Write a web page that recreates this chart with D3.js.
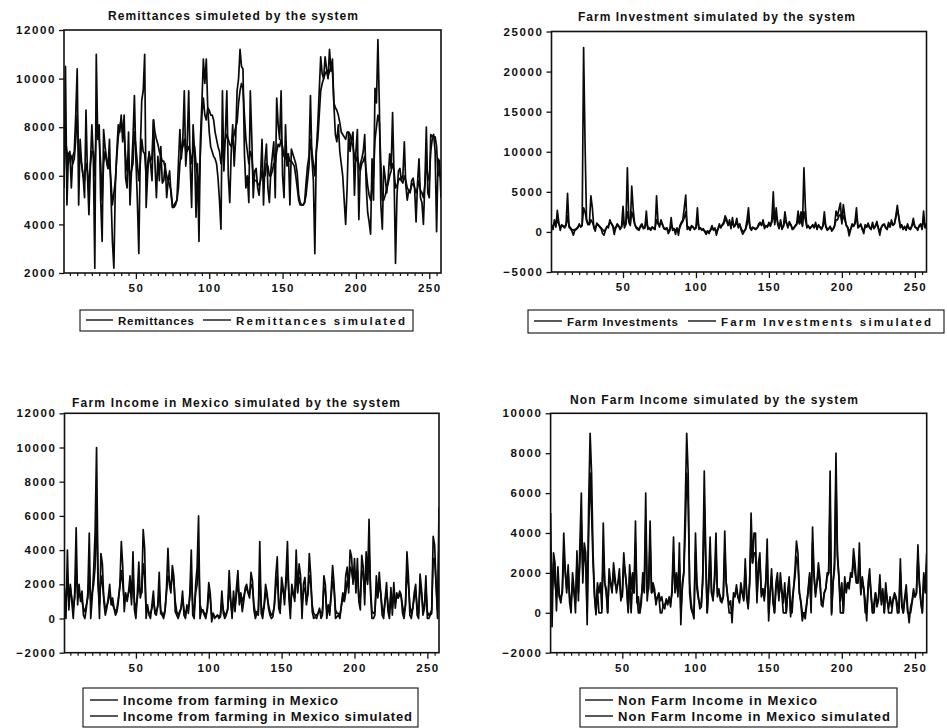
<!DOCTYPE html>
<html><head><meta charset="utf-8">
<script src="https://cdn.jsdelivr.net/npm/d3@7"></script>
<style>body{margin:0;background:#fff}svg{display:block}</style>
</head><body><svg id="c" width="947" height="728"></svg>
<script>
// ---------- DATA (observations 1..258) ----------
const remittances = [
5500,10500,4800,6900,7000,5500,6800,7000,8500,10400,
4800,7500,6500,6000,5100,8700,6000,4400,6500,8100,
6700,2200,11000,7500,8100,5000,3300,7900,7200,6700,
6300,7500,5300,3300,2200,5600,7000,8100,7800,8500,
7400,8500,5900,5500,7800,4800,6200,7500,9300,6700,
5000,2800,7000,9100,9500,11000,4700,6000,7000,6500,
5800,8300,6500,5100,6800,5800,7200,5700,5800,6500,
5100,5800,6200,5200,4700,4800,4900,5000,6500,7900,
6700,7500,9500,6400,7300,9500,6500,4700,8100,7000,
4300,6500,3300,7500,9000,10800,9800,10800,8800,7800,
7200,7000,6800,6700,6500,5900,5000,3800,9500,6200,
7700,9500,6000,4900,7000,8100,6400,7500,9500,10000,
11200,10500,10400,6900,5500,6000,4900,9500,7600,5100,
6200,6300,5500,5200,6000,7500,4800,6600,7300,5500,
4900,6200,6800,7400,5100,9200,8100,7500,9500,6000,
5100,8100,6400,6900,4800,7100,6900,6700,6500,6100,
5200,4900,4800,4800,4900,5700,6400,6800,9300,6700,
5800,2800,7000,8100,9500,10900,10200,10000,10900,10400,
10000,11200,10300,10800,8900,7700,7400,8100,7000,6500,
6000,5000,4000,5500,7800,7000,7500,7800,5200,7000,
7900,4200,6500,6700,7000,7700,5600,4500,4100,3600,
6700,5000,9600,9000,11600,8800,4800,3800,6400,5900,
5300,5900,6900,6300,8600,6000,2400,5200,6200,6300,
5800,6000,7400,5600,5000,5400,5300,5800,5900,5500,
4100,5700,6700,5100,4900,4000,5700,8000,5300,5100,
7700,7600,7700,7000,3700,6700,6600,5100];
const remittancesSim = [
6000,7500,7000,6500,6900,6800,6500,6700,7500,8500,
7000,6800,6500,6000,5800,6500,6200,5500,6500,7000,
7000,6000,8000,7800,7500,6500,5000,6500,7000,6600,
6300,6500,5800,4800,5300,5800,6800,7600,8000,8300,
7800,7700,6800,6200,6500,6000,6200,6500,7800,7200,
6500,5800,6500,7500,7000,6900,6000,6500,6900,6600,
6800,8300,7800,7500,7300,7000,6800,6600,6600,6300,
6000,5800,5600,5400,4700,4700,4800,5000,5500,6500,
7000,7200,7500,7000,7000,7200,7000,6500,7000,7200,
6500,6000,5500,7000,8500,9200,8500,8300,8800,8700,
8500,8500,8300,7800,7500,7200,7000,6500,7000,7200,
7500,7700,7500,7300,7200,7500,7700,8000,8200,9000,
9500,9800,9600,8500,7500,7000,6500,7000,6800,6000,
5800,5800,5700,5600,5800,6200,6000,6000,6500,6400,
6000,6000,6200,6500,6500,7000,7300,7200,7500,7200,
6800,6700,6900,6800,6600,6600,6500,6400,6000,5500,
5000,4800,4800,4800,4900,5200,5800,6400,7500,7000,
6500,6000,7000,7500,8500,9500,9800,10000,10200,10300,
10100,10300,10500,10300,9000,8800,8700,8500,8200,7800,
7700,7600,7500,7800,7800,7700,7400,7200,6800,6600,
6800,6400,6200,6500,6600,6800,6200,5600,5200,5000,
5500,6000,7500,8000,8500,8200,6500,5000,5000,5200,
5500,5700,6000,6200,6500,6200,5500,5600,5800,5900,
5800,5700,6000,5800,5500,5400,5400,5600,5700,5500,
5300,5500,5800,5400,5300,5100,5600,6500,6000,5800,
7000,7500,7600,7600,7200,6000,6200,5800];

const farmInv = [
800,300,1500,600,2700,1200,200,900,700,500,
1000,4800,600,400,100,-400,200,300,500,1000,
600,800,23000,11000,1500,900,1200,4500,3000,500,
100,1100,900,600,400,-200,-400,200,700,500,
1500,1000,700,-300,500,1000,800,300,600,3200,
500,1000,8000,1200,800,5700,2800,1000,500,300,
200,800,1000,400,500,2600,300,500,200,600,
400,300,4500,1200,600,1500,1000,400,300,500,
-200,100,1800,200,400,-300,500,-400,800,1200,
1500,3000,4600,300,500,200,800,600,300,500,
3000,300,500,200,400,0,-300,100,-200,300,
800,200,500,-400,300,1000,500,900,1200,2000,
1600,800,1500,400,1800,600,900,1700,500,1000,
200,-300,0,400,1500,3000,500,200,600,400,
300,500,1000,1200,800,1500,400,800,600,1200,
700,1500,5000,900,3000,1000,400,1500,300,800,
2500,1200,500,1300,900,300,400,800,1000,2600,
1100,2500,700,8000,3000,500,800,400,600,900,
500,1200,300,900,600,300,800,2500,600,200,
400,700,100,300,800,2600,2000,2800,3600,1000,
3400,2000,800,500,-500,300,1000,700,1200,3000,
500,700,1000,300,-200,900,600,1100,500,300,
1200,400,800,1300,400,-400,600,900,1000,500,
300,1200,600,1500,800,1000,2000,3300,1800,500,
900,300,700,200,1000,400,300,800,1700,600,
500,200,800,1000,300,2600,500,1000];
const farmInvSim = [
500,800,1000,800,1500,1000,600,700,800,600,
800,2000,800,500,300,200,300,400,600,800,
700,800,3000,2500,1500,1000,900,1500,1200,700,
500,800,900,700,500,300,100,300,600,800,
1200,1100,800,400,500,800,700,500,600,1500,
800,1000,2500,1500,1000,2500,1800,1000,600,500,
400,600,800,500,600,1200,600,500,400,600,
500,500,1500,1000,800,1200,900,500,400,500,
200,200,800,400,400,200,400,100,600,1000,
1300,1800,2500,700,600,400,700,600,400,500,
1500,600,500,300,300,100,0,100,0,200,
500,300,400,100,300,700,600,800,1000,1500,
1400,900,1200,600,1300,700,800,1200,700,900,
400,100,100,300,900,1800,700,400,500,500,
400,500,800,1000,900,1200,600,700,700,1000,
800,1200,2500,1200,2000,1200,600,1200,500,700,
1500,1100,700,1000,900,500,500,700,900,1500,
1000,1500,800,2500,1500,700,700,500,600,800,
600,900,500,800,600,400,700,1500,700,400,
400,600,300,400,700,1500,1500,2000,2200,1300,
2000,1500,900,600,100,300,800,700,1000,2000,
800,700,800,400,100,700,600,900,600,400,
900,500,700,1000,500,100,500,800,900,600,
400,900,700,1200,900,1000,1800,2800,1900,800,
800,400,600,300,800,500,400,700,1200,700,
500,400,700,900,500,1500,700,800];

const farmIncome = [
1500,0,4000,500,2000,1000,0,1500,5300,800,
2000,1000,1600,200,0,600,1500,5000,0,1200,
2800,5000,10000,2500,0,3800,3200,1000,200,600,
1200,2000,800,1200,600,200,400,1000,2000,4500,
3000,400,1500,1000,1600,2500,800,3900,500,0,
1500,3300,1200,1600,5200,4100,0,800,200,0,
800,1600,300,200,800,2700,300,200,0,400,
1800,4100,2000,1500,3100,2500,400,200,0,300,
600,1600,200,0,800,300,1500,4000,200,0,
2000,3000,6000,0,500,400,200,0,600,2100,
1500,-200,300,0,100,200,0,100,1600,300,
0,200,600,2800,1200,0,1600,400,1800,2800,
800,1500,400,1000,1800,2000,1500,1200,2700,2200,
500,0,300,200,4500,300,0,800,2000,1500,
600,200,0,100,800,2500,3600,600,300,2400,
1800,800,2500,4500,1200,0,2000,1500,1000,4000,
1500,3200,2500,0,2000,2400,800,1500,3800,2500,
400,0,100,0,300,600,0,200,2500,2000,
0,800,200,1600,3100,2000,0,100,200,0,
800,1500,1000,2500,3000,1500,4000,3600,2000,3500,
1500,3500,1000,500,3700,3000,800,3900,2200,5800,
1500,0,0,200,2500,1200,2700,1500,200,0,
1100,2100,400,0,1800,200,2100,600,1500,1200,
1600,1400,300,0,800,3900,2500,200,0,600,
1500,2000,200,0,2600,1700,200,600,2500,0,
0,200,300,4800,4300,2000,0,6500];
const farmIncomeSim = [
1800,800,2000,1200,1800,1200,600,1200,3000,1500,
1500,1200,1000,600,400,800,1200,2500,1000,1500,
2000,3000,6500,2000,800,2500,2000,1200,600,700,
1000,1500,1000,800,600,400,600,1200,1800,2800,
2000,1000,1300,1200,1500,1800,1200,2500,1000,500,
1200,2000,1500,1500,3200,2500,600,600,300,300,
600,1000,500,400,700,1500,500,300,200,500,
1500,2500,2200,1800,2500,2200,1000,400,200,400,
600,1200,500,200,600,500,1200,2500,800,400,
1500,2000,3500,800,500,500,300,200,500,1500,
1200,200,300,100,100,200,100,200,1000,500,
200,300,500,1800,1000,300,1200,700,1400,2000,
1200,1400,1000,1300,1600,1800,1500,1400,2000,1800,
800,300,400,400,2500,800,300,700,1500,1300,
800,400,200,300,700,1800,2500,1000,700,1800,
1600,1200,2000,3000,1500,600,1600,1400,1200,2800,
1600,2400,2000,800,1600,1800,1000,1400,2500,2000,
800,300,200,200,300,500,300,400,1800,1600,
500,700,400,1300,2200,1700,500,300,300,200,
700,1300,1000,1500,2200,1800,3000,2800,2200,2800,
2000,2800,1200,1200,2800,2600,1500,3000,2000,4000,
1800,400,300,400,1800,1300,2000,1500,600,300,
1000,1600,800,300,1400,600,1600,900,1300,1200,
1400,1300,700,300,800,2800,2000,800,300,600,
1200,1600,700,300,1800,1500,600,700,1800,400,
200,300,500,3500,3500,2000,500,4500];

const nonFarmIncome = [
5000,-700,3000,2500,100,2300,800,500,1200,4000,
2200,1000,2400,500,0,2000,1200,0,3100,600,
3400,6000,1500,3500,3000,-600,5400,9000,7000,3000,
1000,-100,1500,1000,1500,200,4500,1500,1200,0,
2200,1500,1000,2500,1800,1000,1500,2200,600,1000,
3000,2000,1300,100,2400,1200,2000,1000,4600,500,
800,0,500,2000,1200,6000,600,1500,4600,1000,
1500,1200,400,800,1000,600,800,300,200,700,
400,800,300,1200,3800,1000,2000,800,3500,-600,
1500,2000,5400,9000,7000,1000,200,0,-300,4000,
1500,800,200,300,2000,7100,3000,0,1500,3800,
1000,600,1800,4000,800,1200,600,500,800,4100,
1500,800,400,600,-500,1000,800,1400,800,500,
1500,1000,600,2700,800,200,1500,5000,2500,4000,
4000,500,2500,3000,800,1200,600,1500,3700,-400,
1000,2200,500,0,1500,2000,600,2000,1200,500,
1500,0,1000,1800,-200,600,1200,2200,3600,3000,
1000,500,-400,0,-300,400,1200,2000,0,4300,
2000,800,1500,2500,1800,400,300,1000,1200,2000,
2000,7100,-100,1500,2500,8000,3000,1800,600,1500,
0,1800,1000,1500,1200,2000,1800,3200,2500,1500,
1500,3500,900,1800,1200,600,-400,1500,2200,800,
0,500,1000,300,600,1900,400,1200,0,1500,
600,200,800,300,700,1000,800,400,200,2700,
300,0,800,1400,200,-500,300,600,1200,800,
1000,3400,1500,500,0,2000,1200,3000];
const nonFarmIncomeSim = [
3000,1000,2500,1500,800,1500,800,800,1000,3000,
2000,1200,2000,800,500,1500,1000,500,2500,1000,
2500,4500,2000,3000,2500,0,4000,7000,5000,2500,
800,0,1200,0,0,0,3000,1500,1000,0,
1800,1500,1200,2000,1500,1200,1500,1800,800,800,
2500,2000,1200,0,1800,0,1500,1000,3500,800,
0,0,800,1500,1000,4500,1000,1200,3500,1000,
1200,1000,600,800,800,0,0,400,400,600,
500,700,500,1000,3000,1200,1600,1000,2500,0,
1200,2000,4000,7000,5500,1500,500,0,0,3000,
1200,700,400,500,1500,5500,2500,0,1200,3000,
1000,800,1500,3000,1000,1000,800,600,800,3000,
1500,800,0,0,0,800,900,1200,800,600,
1200,1000,700,2200,900,400,1500,3800,2500,3000,
3000,800,2000,2500,1000,1200,800,1500,2800,0,
1000,1800,700,0,1200,1600,800,1500,1000,0,
0,0,1000,1500,0,0,1200,1800,2800,2500,
1000,600,0,0,0,500,1000,1800,500,3500,
1800,1000,1500,2000,1500,600,500,1000,1200,1800,
2000,5500,0,1500,2200,6500,2800,1800,0,0,
0,1500,1200,1500,1500,1800,1800,2800,2000,1500,
1500,2800,1000,1600,1200,0,0,1200,1800,1000,
0,0,1000,500,700,1500,600,1000,0,1200,
700,0,0,0,600,800,700,0,0,2000,
500,0,700,1000,0,0,0,500,1000,800,
1000,2800,1500,600,0,1800,1000,2500];

const xTicks = [50, 100, 150, 200, 250];
const yTicksRemit = [2000, 4000, 6000, 8000, 10000, 12000];
const yTicksInv = [-5000, 0, 5000, 10000, 15000, 20000, 25000];
const yTicksFarm = [-2000, 0, 2000, 4000, 6000, 8000, 10000, 12000];
const yTicksNonFarm = [-2000, 0, 2000, 4000, 6000, 8000, 10000];

const titles = ["Remittances simuleted by the system", "Farm Investment simulated by the system",
  "Farm Income in Mexico simulated by the system", "Non Farm Income simulated by the system"];
const seriesNames = [
  ["Remittances", "Remittances simulated"],
  ["Farm Investments", "Farm Investments simulated"],
  ["Income from farming in Mexico", "Income from farming in Mexico simulated"],
  ["Non Farm Income in Mexico", "Non Farm Income in Mexico simulated"]];

// ---------- LAYOUT ----------
const panels = [
 {series:[remittances, remittancesSim], yDomain:[2000,12000], yTicks:yTicksRemit,
  f:{x0:64,x1:441,y0:30,y1:273}, title:{x:108,w:250,y:19.5},
  legend:{box:[80,310,413,331], rows:[{s:[86,113],ly:320,tx:118,tw:76,by:324.5},{s:[203,231],ly:320,tx:236,tw:169,by:324.5}]}},
 {series:[farmInv, farmInvSim], yDomain:[-5000,25000], yTicks:yTicksInv,
  f:{x0:551.5,x1:926.5,y0:31.5,y1:272}, title:{x:578,w:277,y:20.5},
  legend:{box:[528,310,944,333], rows:[{s:[534,562],ly:321,tx:567,tw:111,by:325.5},{s:[688,716],ly:321,tx:721,tw:210,by:325.5}]}},
 {series:[farmIncome, farmIncomeSim], yDomain:[-2000,12000], yTicks:yTicksFarm,
  f:{x0:64.5,x1:439,y0:413.3,y1:652.7}, title:{x:72,w:328,y:407},
  legend:{box:[83,688,418,727], rows:[{s:[90,118],ly:700,tx:123,tw:215,by:705},{s:[90,118],ly:716,tx:123,tw:289,by:721}]}},
 {series:[nonFarmIncome, nonFarmIncomeSim], yDomain:[-2000,10000], yTicks:yTicksNonFarm,
  f:{x0:550.6,x1:926.7,y0:413.3,y1:652.7}, title:{x:570,w:288,y:404},
  legend:{box:[580,688,897,727], rows:[{s:[585,613],ly:700,tx:618,tw:199,by:704.5},{s:[585,613],ly:716,tx:618,tw:272,by:721}]}}
];

const svg = d3.select("#c");
const FONT = "'Liberation Sans', Arial, sans-serif";

panels.forEach((p, k) => {
  const N = p.series[0].length;
  const x = d3.scaleLinear().domain([1, N]).range([p.f.x0, p.f.x1]);
  const y = d3.scaleLinear().domain(p.yDomain).range([p.f.y1, p.f.y0]);
  const g = svg.append("g");

  g.append("clipPath").attr("id", "clip" + k).append("rect")
    .attr("x", p.f.x0).attr("y", p.f.y0 - 1)
    .attr("width", p.f.x1 - p.f.x0).attr("height", p.f.y1 - p.f.y0 + 2);

  // lines
  const line = d3.line().x((d, i) => x(i + 1)).y(d => y(d));
  p.series.forEach((s, j) => {
    g.append("path").datum(s).attr("d", line)
      .attr("clip-path", `url(#clip${k})`)
      .attr("fill", "none").attr("stroke", "#0a0a0a")
      .attr("stroke-width", 1.7)
      .attr("stroke-linejoin", "round");
  });

  // frame
  g.append("rect").attr("x", p.f.x0).attr("y", p.f.y0)
    .attr("width", p.f.x1 - p.f.x0).attr("height", p.f.y1 - p.f.y0)
    .attr("fill", "none").attr("stroke", "#111").attr("stroke-width", 1.6);

  // y axis
  const ya = g.append("g").attr("transform", `translate(${p.f.x0},0)`)
    .call(d3.axisLeft(y).tickValues(p.yTicks).tickSize(5).tickPadding(3).tickFormat(d3.format("d")));
  ya.select(".domain").remove();
  ya.selectAll("line").attr("stroke", "#111").attr("stroke-width", 1.3);
  ya.selectAll("text").attr("font-family", FONT).attr("font-size", 11.5)
    .attr("font-weight", "bold").attr("fill", "#111").style("letter-spacing", "1.6px");

  // x axis: minor ticks
  const minor = d3.range(5, N + 1, 5).filter(v => !xTicks.includes(v));
  const xm = g.append("g").attr("transform", `translate(0,${p.f.y1})`)
    .call(d3.axisBottom(x).tickValues(minor).tickSize(3).tickFormat(""));
  xm.select(".domain").remove();
  xm.selectAll("line").attr("stroke", "#111").attr("stroke-width", 1.2);
  const xa = g.append("g").attr("transform", `translate(0,${p.f.y1})`)
    .call(d3.axisBottom(x).tickValues(xTicks).tickSize(6).tickPadding(5).tickFormat(d3.format("d")));
  xa.select(".domain").remove();
  xa.selectAll("line").attr("stroke", "#111").attr("stroke-width", 1.3);
  xa.selectAll("text").attr("font-family", FONT).attr("font-size", 11.5)
    .attr("font-weight", "bold").attr("fill", "#111").style("letter-spacing", "1.4px");

  // title
  g.append("text").attr("x", p.title.x).attr("y", p.title.y)
    .attr("textLength", p.title.w).attr("lengthAdjust", "spacing")
    .attr("font-family", FONT).attr("font-size", 12).attr("font-weight", "bold")
    .attr("fill", "#111").text(titles[k]);

  // legend
  const L = p.legend;
  g.append("rect").attr("x", L.box[0]).attr("y", L.box[1])
    .attr("width", L.box[2] - L.box[0]).attr("height", L.box[3] - L.box[1])
    .attr("fill", "none").attr("stroke", "#111").attr("stroke-width", 1.1);
  L.rows.forEach((r, j) => {
    g.append("line").attr("x1", r.s[0]).attr("x2", r.s[1]).attr("y1", r.ly).attr("y2", r.ly)
      .attr("stroke", "#111").attr("stroke-width", 1.4);
    g.append("text").attr("x", r.tx).attr("y", r.by)
      .attr("textLength", r.tw).attr("lengthAdjust", "spacing")
      .attr("font-family", FONT).attr("font-size", k < 2 ? 11.5 : 13).attr("font-weight", "bold")
      .attr("fill", "#111").text(seriesNames[k][j]);
  });
});
</script>
</body></html>
